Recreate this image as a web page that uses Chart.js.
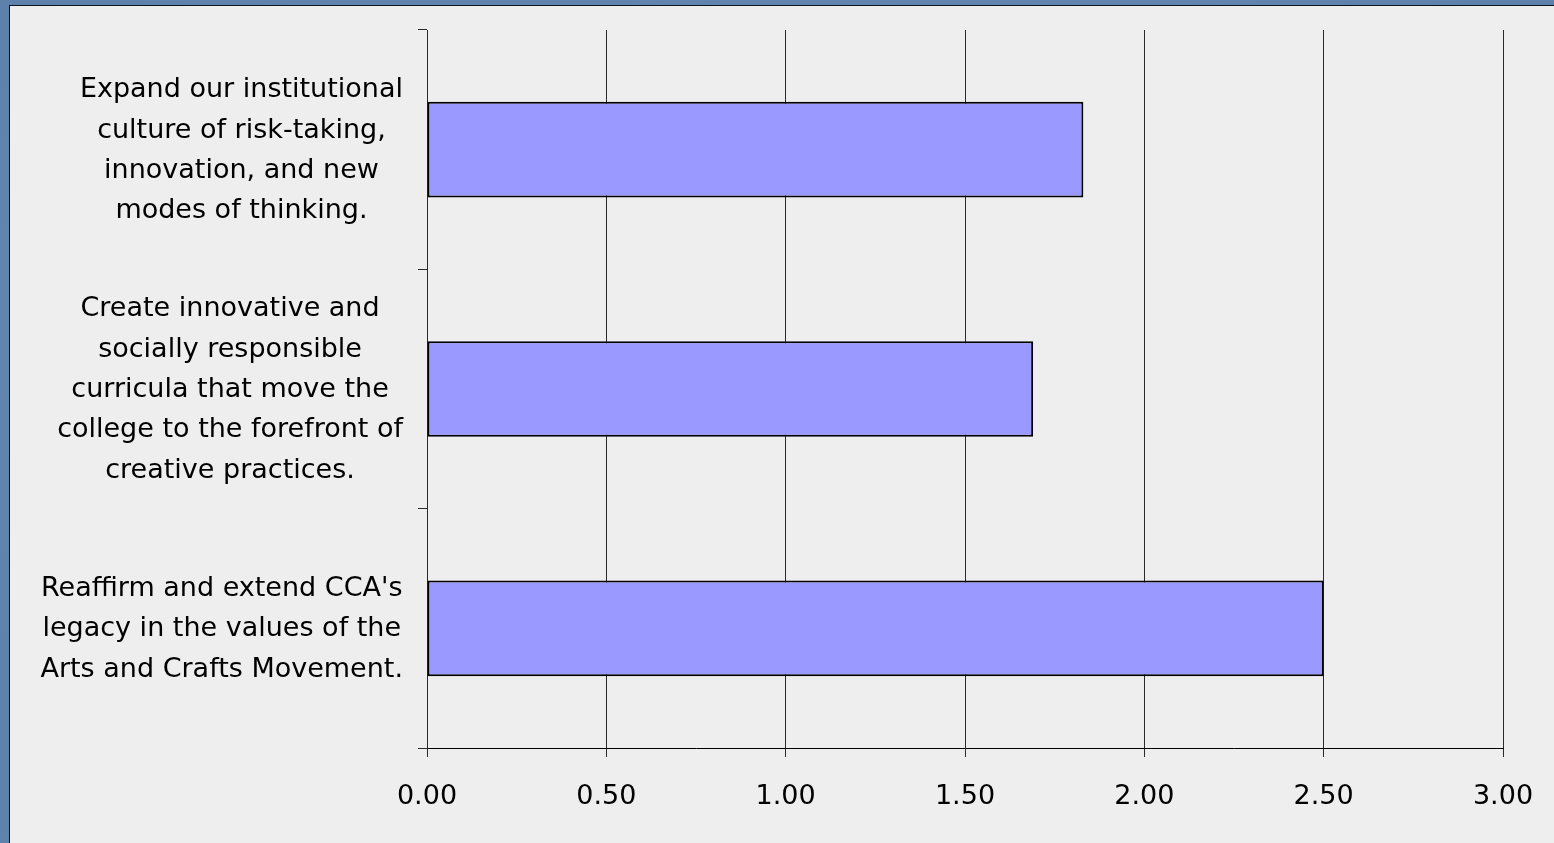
<!DOCTYPE html>
<html>
<head>
<meta charset="utf-8">
<title>Strategic goals – average ratings</title>
<script src="https://cdn.jsdelivr.net/npm/chart.js@4.4.1/dist/chart.umd.min.js"></script>
<style>
  html, body { margin: 0; padding: 0; }
  body {
    width: 1554px; height: 843px; overflow: hidden; position: relative;
    background: #5a7fa9;
    background-image:
      radial-gradient(ellipse at 20% 30%, rgba(120,150,190,0.35), rgba(0,0,0,0) 60%),
      radial-gradient(ellipse at 80% 70%, rgba(60,90,130,0.35), rgba(0,0,0,0) 60%),
      linear-gradient(135deg, #587da7 0%, #6185af 50%, #52779f 100%);
  }
  #panel {
    position: absolute; left: 9px; top: 5px; width: 1545px; height: 838px;
    border-left: 1px solid #0d1420; border-top: 1px solid #0d1420;
    background: #eeeeee; box-sizing: border-box;
  }
  #chart { display: block; }
</style>
</head>
<body>
<div id="panel"><canvas id="chart" width="1544" height="837"></canvas></div>
<script>
// Goal statements (one array of lines per category), top to bottom
const categories = [
  ["Expand our institutional", "culture of risk-taking,", "innovation, and new", "modes of thinking."],
  ["Create innovative and", "socially responsible", "curricula that move the", "college to the forefront of", "creative practices."],
  ["Reaffirm and extend CCA's", "legacy in the values of the", "Arts and Crafts Movement."]
];
// Average rating for each goal
const ratings = [1.83, 1.69, 2.50];
// Value axis tick labels
const tickValues = [0, 0.5, 1, 1.5, 2, 2.5, 3];

const FONT_FAMILY = '"DejaVu Sans", sans-serif';
const FONT_SIZE = 27;

// Draws the multi-line category labels, each block centred on its widest line
const categoryLabels = {
  id: 'categoryLabels',
  afterDraw(chart) {
    const ctx = chart.ctx;
    const yScale = chart.scales.y;
    const lineGap = 40.3;
    ctx.save();
    ctx.font = FONT_SIZE + 'px ' + FONT_FAMILY;
    ctx.fillStyle = '#000';
    ctx.textAlign = 'center';
    ctx.textBaseline = 'middle';
    categories.forEach((lines, i) => {
      const yc = yScale.getPixelForTick(i) + 1;
      const widest = Math.max(...lines.map(l => ctx.measureText(l).width));
      const cx = chart.chartArea.left - 24 - widest / 2;
      lines.forEach((line, k) => {
        ctx.fillText(line, cx, yc + (k - (lines.length - 1) / 2) * lineGap);
      });
    });
    ctx.restore();
  }
};

new Chart(document.getElementById('chart'), {
  type: 'bar',
  data: {
    labels: categories,
    datasets: [{
      data: ratings,
      backgroundColor: '#9999ff',
      borderColor: '#000000',
      borderWidth: 2,
      borderSkipped: false,
      barPercentage: 0.4,
      categoryPercentage: 1.0
    }]
  },
  options: {
    indexAxis: 'y',
    responsive: false,
    animation: false,
    devicePixelRatio: 1,
    layout: { padding: { top: 24, right: 51, left: 0, bottom: 0 } },
    plugins: { legend: { display: false }, tooltip: { enabled: false } },
    scales: {
      x: {
        type: 'linear',
        min: 0,
        max: 3,
        afterBuildTicks(scale) { scale.ticks = tickValues.map(v => ({ value: v })); },
        afterFit(scale) {
          scale.height = 95;
          scale.paddingLeft = 0;
          scale.paddingRight = 0;
        },
        ticks: {
          callback: v => Number(v).toFixed(2),
          color: '#000',
          padding: 24,
          maxRotation: 0,
          font: { family: FONT_FAMILY, size: FONT_SIZE }
        },
        grid: { color: '#2a2a2a', lineWidth: 1, tickLength: 9, drawTicks: true },
        border: { color: '#000', width: 1 }
      },
      y: {
        type: 'category',
        offset: true,
        afterFit(scale) { scale.width = 417; },
        ticks: { display: false },
        grid: { offset: true, drawOnChartArea: false, color: '#2a2a2a', tickLength: 9 },
        border: { color: '#2a2a2a', width: 1 }
      }
    }
  },
  plugins: [categoryLabels]
});
</script>
</body>
</html>
